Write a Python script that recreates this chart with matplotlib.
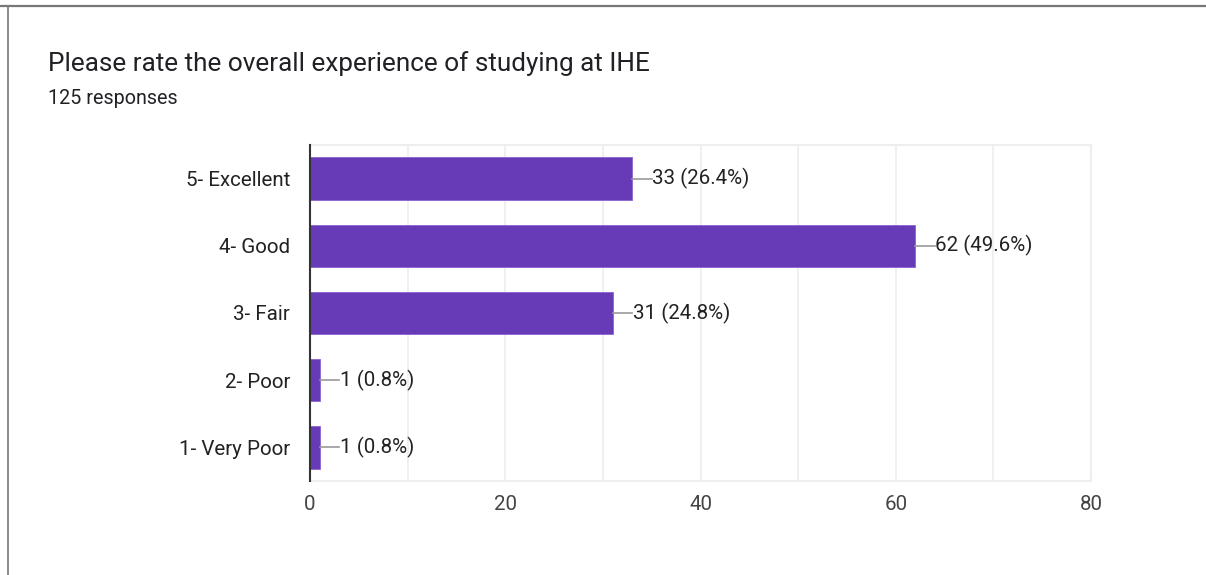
import matplotlib.pyplot as plt
from matplotlib.lines import Line2D

# DATOS
categorias = ['5- Excellent', '4- Good', '3- Fair', '2- Poor', '1- Very Poor']
respuestas = [33, 62, 31, 1, 1]
porcentajes = [26.4, 49.6, 24.8, 0.8, 0.8]
ticks_x = [0, 20, 40, 60, 80]

plt.rcParams['font.family'] = ['Roboto', 'DejaVu Sans']

W, H = 1206, 575
fig = plt.figure(figsize=(W / 100, H / 100), dpi=100)

# marco de la tarjeta
fig.add_artist(Line2D([0, 1], [1 - 5.5 / H, 1 - 5.5 / H], color='#777777', lw=1.6, transform=fig.transFigure))
fig.add_artist(Line2D([7.5 / W, 7.5 / W], [0, 1 - 5.5 / H], color='#777777', lw=1.2, transform=fig.transFigure))

fig.text(48 / W, 1 - 64 / H, 'Please rate the overall experience of studying at IHE',
         fontsize=18.8, color='#202124', va='center', ha='left')
fig.text(48 / W, 1 - 99 / H, '125 responses', fontsize=14.2, color='#202124', va='center', ha='left')

ax = fig.add_axes([310 / W, (H - 481) / H, 781 / W, 336 / H])

y = list(range(len(categorias)))
ax.barh(y, respuestas, height=0.63, color='#673ab7', edgecolor='#8a63d2', lw=0.6, zorder=3)

for yi, v, p in zip(y, respuestas, porcentajes):
    ax.plot([v, v + 2.0], [yi, yi], color='#999999', lw=1.2, zorder=4)
    ax.text(v + 2.05, yi, f'{v} ({p}%)', va='center', ha='left', fontsize=14.8, color='#222222')

ax.set_xlim(0, 80)
ax.set_ylim(len(categorias) - 0.5, -0.5)
ax.set_yticks(y)
ax.set_yticklabels(categorias, fontsize=14.8, color='#222222')
ax.set_xticks(ticks_x)
ax.set_xticklabels([str(t) for t in ticks_x], fontsize=14.8, color='#444444')
ax.set_xticks(range(0, 81, 10), minor=True)
ax.tick_params(axis='both', length=0, which='both')
ax.tick_params(axis='y', pad=14.4)
ax.tick_params(axis='x', pad=10)
ax.grid(True, axis='x', which='both', color='#eeeeee', lw=1.2, zorder=0)

for s in ['top', 'right', 'bottom']:
    ax.spines[s].set_color('#eeeeee')
    ax.spines[s].set_linewidth(1.5)
ax.spines['left'].set_color('#333333')
ax.spines['left'].set_linewidth(1.5)
ax.spines['left'].set_zorder(5)

fig.savefig('out.png', dpi=100)
